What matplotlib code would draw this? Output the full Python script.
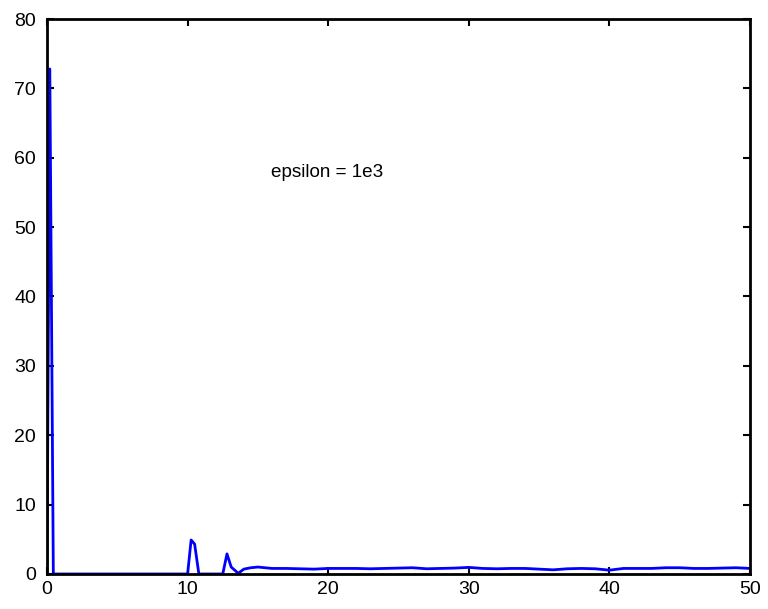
import numpy as np
import matplotlib
matplotlib.use("Agg")
import matplotlib.pyplot as plt

plt.rcParams['font.family'] = ['Liberation Sans', 'DejaVu Sans']

# values
x_vals = [0.0, 0.2, 0.45, 10.0, 10.25, 10.5, 10.8, 12.5, 12.8, 13.1, 13.6,
          14.0, 14.5, 15.0, 16.0, 17.0, 18.0, 19.0, 20.0, 21.0, 22.0, 23.0,
          24.0, 25.0, 26.0, 27.0, 28.0, 29.0, 30.0, 31.0, 32.0, 33.0, 34.0,
          35.0, 36.0, 37.0, 38.0, 39.0, 40.0, 41.0, 42.0, 43.0, 44.0, 45.0,
          46.0, 47.0, 48.0, 49.0, 50.0]
y_vals = [0.0, 72.8, 0.0, 0.0, 4.9, 4.3, 0.0, 0.0, 2.9, 1.0, 0.1,
          0.7, 0.9, 1.0, 0.8, 0.8, 0.75, 0.7, 0.8, 0.8, 0.8, 0.75,
          0.8, 0.85, 0.9, 0.75, 0.8, 0.85, 0.95, 0.8, 0.75, 0.8, 0.8,
          0.7, 0.6, 0.75, 0.8, 0.75, 0.55, 0.8, 0.8, 0.8, 0.9, 0.9,
          0.8, 0.8, 0.85, 0.9, 0.8]
xticks = [0, 10, 20, 30, 40, 50]
yticks = [0, 10, 20, 30, 40, 50, 60, 70, 80]

fig = plt.figure(figsize=(7.68, 6.09), dpi=100)
ax = fig.add_axes([0.0612, 0.0575, 0.9154, 0.9113])

ax.plot(x_vals, y_vals, color='#0000ff', linewidth=2.0)
ax.text(15.9, 57.2, "epsilon = 1e3", fontsize=13.6)

ax.set_xlim(0, 50)
ax.set_ylim(0, 80)
ax.set_xticks(xticks)
ax.set_yticks(yticks)
ax.tick_params(direction='in', length=5, width=1.5, top=True, right=True,
               labelsize=14)
ax.tick_params(axis='y', pad=8)
ax.tick_params(axis='x', pad=5)
for s in ax.spines.values():
    s.set_linewidth(2.0)

fig.savefig("out.png", dpi=100)
